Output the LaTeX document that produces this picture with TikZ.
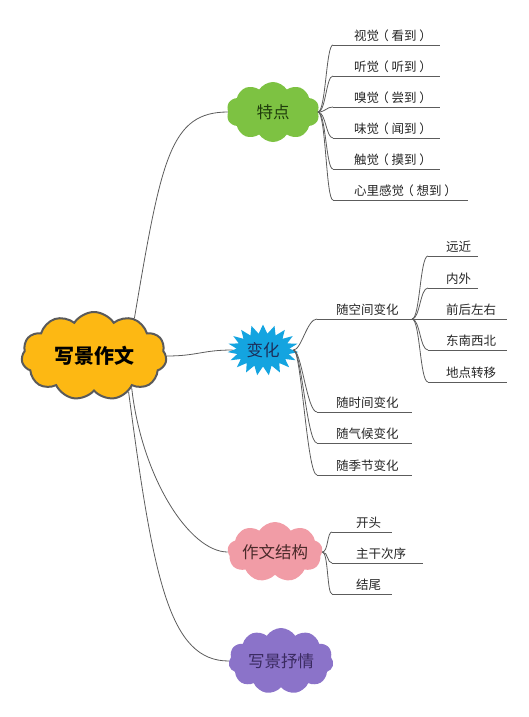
\documentclass[tikz,border=0pt]{standalone}
\usepackage{fontspec}
\setmainfont{Noto Sans CJK SC}
\usetikzlibrary{shapes.symbols,calc}
\definecolor{mainorange}{HTML}{FDB813}
\definecolor{maingray}{HTML}{5A5A5A}
\definecolor{leafgreen}{HTML}{7DC242}
\definecolor{greentext}{HTML}{1F3D0C}
\definecolor{burstblue}{HTML}{14A4E0}
\definecolor{bluetext}{HTML}{1C2E5A}
\definecolor{cloudpink}{HTML}{F19CA6}
\definecolor{pinktext}{HTML}{4A2A2A}
\definecolor{cloudpurple}{HTML}{8B73C9}
\definecolor{purpletext}{HTML}{3A2A60}
\definecolor{linegray}{HTML}{5C5C5C}
\newcommand\lparc{\hbox to 1em{\kern-0.22em（\hss}}
\newcommand\rparc{\hbox to 1em{\kern0.22em）\hss}}
\newcommand\leafitem[6]{%
  \coordinate (#1) at (#2,#3);
  \draw[uline] (#1) -- ++(#4,0) coordinate (#1e);
  \node[leaf] (#1t) at ($(#1)+(#5,-4.5)$) {#6};
}
\begin{document}
\begin{tikzpicture}[x=1pt,y=-1pt,
  conn/.style={draw=linegray, line width=0.8pt},
  uline/.style={draw=linegray, line width=0.8pt},
  leaf/.style={font=\fontsize{12.5}{15}\selectfont, text=black!85, inner sep=0pt, anchor=base west},
  subcloud/.style={cloud, cloud ignores aspect, cloud puff arc=115, inner sep=0pt, font=\fontsize{16.5}{20}\selectfont}
]
\useasboundingbox (0,0) rectangle (528,717);

% main topics
\node[cloud, cloud ignores aspect, cloud puffs=11, cloud puff arc=115,
  minimum width=145pt, minimum height=88pt, fill=mainorange, draw=maingray,
  line width=2pt, inner sep=0pt, font=\bfseries\fontsize{20}{24}\selectfont] (main) at (94,356) {写景作文};
\node[subcloud, cloud puffs=10, minimum width=93pt, minimum height=60pt, fill=leafgreen, text=greentext] (tedian) at (273,112) {特点};
\node[starburst, starburst points=19, starburst point height=9pt, random starburst=0,
  minimum width=71pt, minimum height=51pt, inner sep=0pt, fill=burstblue, text=bluetext,
  font=\fontsize{16.5}{20}\selectfont] (bianhua) at (263,350) {变化};
\node[subcloud, cloud puffs=9, minimum width=95pt, minimum height=60pt, fill=cloudpink, text=pinktext] (jiegou) at (275,552) {作文结构};
\node[subcloud, cloud puffs=11, minimum width=105pt, minimum height=66pt, fill=cloudpurple, text=purpletext] (shuqing) at (281,661) {写景抒情};

% main connectors
\draw[conn] (main.43) .. controls +(27,-160) and +(-58,0) .. (tedian.west);
\draw[conn] (main.east) .. controls +(30,0) and +(-30,0) .. (bianhua.west);
\draw[conn] (main.-40) .. controls +(10,90) and +(-38,0) .. (jiegou.west);
\draw[conn] (main.-46) .. controls +(25,190) and +(-59,0) .. (shuqing.west);

% 特点 leaves
\leafitem{a1}{333}{45}{107}{21}{视觉\lparc 看到\rparc}
\leafitem{a2}{333}{76}{107}{21}{听觉\lparc 听到\rparc}
\leafitem{a3}{333}{107}{107}{21}{嗅觉\lparc 尝到\rparc}
\leafitem{a4}{333}{138}{107}{21}{味觉\lparc 闻到\rparc}
\leafitem{a5}{333}{169}{107}{21}{触觉\lparc 摸到\rparc}
\leafitem{a6}{333}{200}{135}{21}{心里感觉\lparc 想到\rparc}
\foreach \n in {a1,a2,a3,a4,a5,a6}
  \draw[conn] (tedian.east) .. controls +(8,0) and +(-7,0) .. (\n);

% 变化 leaves
\leafitem{b1}{317}{319}{95}{19}{随空间变化}
\leafitem{b2}{317}{412}{95}{19}{随时间变化}
\leafitem{b3}{317}{443}{95}{19}{随气候变化}
\leafitem{b4}{317}{475}{95}{19}{随季节变化}
\foreach \n in {b1,b2,b3,b4}
  \draw[conn] (bianhua.east) .. controls +(8,0) and +(-10,0) .. (\n);

% 随空间变化 leaves
\leafitem{c1}{428}{256}{50}{18}{远近}
\leafitem{c2}{428}{288}{50}{18}{内外}
\leafitem{c3}{428}{319}{79}{18}{前后左右}
\leafitem{c4}{428}{350}{79}{18}{东南西北}
\leafitem{c5}{428}{382}{79}{18}{地点转移}
\foreach \n in {c1,c2,c3,c4,c5}
  \draw[conn] (b1e) .. controls +(8,0) and +(-8,0) .. (\n);

% 作文结构 leaves
\leafitem{d1}{332}{532}{60}{24}{开头}
\leafitem{d2}{332}{563}{91}{24}{主干次序}
\leafitem{d3}{332}{594}{60}{24}{结尾}
\foreach \n in {d1,d2,d3}
  \draw[conn] (jiegou.east) .. controls +(6,0) and +(-5,0) .. (\n);
\end{tikzpicture}
\end{document}
